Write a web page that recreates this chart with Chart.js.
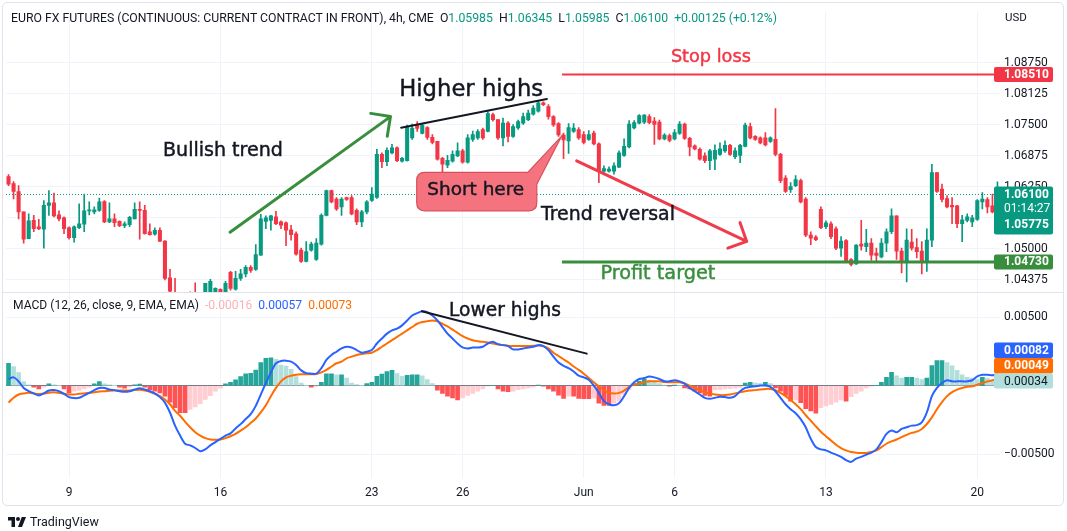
<!DOCTYPE html>
<html>
<head>
<meta charset="utf-8">
<title>EURO FX Futures 4h with MACD</title>
<script src="https://cdn.jsdelivr.net/npm/chart.js@4.4.1/dist/chart.umd.min.js"></script>
<style>
  html, body { margin: 0; padding: 0; background: #fff; }
  #wrap { position: relative; width: 1067px; height: 531px; overflow: hidden; font-family: Roboto, 'Noto Sans', sans-serif; color: #131722; }
  #frame { position: absolute; left: 2px; top: 2px; width: 1062px; height: 504px; border: 1px solid #e0e3eb; border-radius: 5px; box-sizing: border-box; }
  #c { position: absolute; left: 0; top: 0; }
  .txt { position: absolute; white-space: nowrap; line-height: 1; transform: translateY(-50%); }
  .note { position: absolute; white-space: nowrap; line-height: 1; transform: translate(-50%, -50%); font-family: 'DejaVu Sans', sans-serif; -webkit-text-stroke: 0.45px currentColor; }
  .g { color: #089981; }
  #tv { position: absolute; left: 8px; top: 514px; display: flex; align-items: center; gap: 4px; font-size: 12.5px; color: #131722; }
</style>
</head>
<body>
<div id="wrap">
  <div id="frame"></div>
  <canvas id="c" width="1067" height="531"></canvas>
  <div id="hdr" class="txt" style="left:11px;top:18px;font-size:12px">EURO FX FUTURES (CONTINUOUS: CURRENT CONTRACT IN FRONT), 4h, CME&nbsp; O<span class="g">1.05985</span>&nbsp; H<span class="g">1.06345</span>&nbsp; L<span class="g">1.05985</span>&nbsp; C<span class="g">1.06100</span>&nbsp; <span class="g">+0.00125 (+0.12%)</span></div>
  <div class="txt" style="left:1005px;top:18px;font-size:11.5px">USD</div>
  <div id="macdLeg" class="txt" style="left:13px;top:305px;font-size:12px">MACD (12, 26, close, 9, EMA, EMA)&nbsp; <span style="color:#fab1b8">-0.00016</span>&nbsp; <span style="color:#2962ff">0.00057</span>&nbsp; <span style="color:#ff6d00">0.00073</span></div>
  <div id="tv"><svg width="18" height="11" viewBox="0 0 36 22"><path d="M14 22H7V9H0V2h14z" fill="#131722"/><circle cx="20" cy="6" r="4" fill="#131722"/><path d="M28 22h-8l7.5-20H36z" fill="#131722"/></svg><span>TradingView</span></div>
</div>
<script>
// 4h candles, 197 bars (index 0 = first bar on the left)
const opens = [
  1.0645, 1.0631, 1.0615, 1.0574, 1.0520, 1.0557, 1.0544, 1.0539, 1.0587, 1.0592,
  1.0568, 1.0562, 1.0542, 1.0522, 1.0542, 1.0549, 1.0576, 1.0574, 1.0577, 1.0595,
  1.0554, 1.0560, 1.0555, 1.0546, 1.0548, 1.0560, 1.0579, 1.0577, 1.0534, 1.0529,
  1.0537, 1.0515, 1.0441, 1.0412, 1.0405, 1.0398, 1.0402, 1.0409, 1.0398, 1.0405,
  1.0406, 1.0404, 1.0418, 1.0408, 1.0452, 1.0418, 1.0440, 1.0449, 1.0462, 1.0458,
  1.0487, 1.0555, 1.0557, 1.0564, 1.0554, 1.0552, 1.0538, 1.0530, 1.0497, 1.0474,
  1.0497, 1.0478, 1.0509, 1.0567, 1.0617, 1.0600, 1.0584, 1.0603, 1.0603, 1.0577,
  1.0554, 1.0574, 1.0597, 1.0603, 1.0690, 1.0675, 1.0693, 1.0703, 1.0676, 1.0677,
  1.0723, 1.0749, 1.0732, 1.0744, 1.0724, 1.0716, 1.0682, 1.0668, 1.0676, 1.0687,
  1.0697, 1.0674, 1.0720, 1.0723, 1.0740, 1.0736, 1.0770, 1.0760, 1.0723, 1.0753,
  1.0726, 1.0743, 1.0753, 1.0760, 1.0771, 1.0777, 1.0794, 1.0786, 1.0766, 1.0752,
  1.0729, 1.0717, 1.0736, 1.0740, 1.0730, 1.0720, 1.0733, 1.0711, 1.0656, 1.0656,
  1.0656, 1.0664, 1.0688, 1.0705, 1.0743, 1.0753, 1.0755, 1.0766, 1.0757, 1.0755,
  1.0721, 1.0728, 1.0721, 1.0732, 1.0751, 1.0722, 1.0707, 1.0700, 1.0687, 1.0677,
  1.0680, 1.0690, 1.0697, 1.0708, 1.0685, 1.0688, 1.0706, 1.0746, 1.0726, 1.0723,
  1.0723, 1.0716, 1.0720, 1.0690, 1.0642, 1.0619, 1.0627, 1.0637, 1.0600, 1.0527,
  1.0523, 1.0579, 1.0544, 1.0550, 1.0540, 1.0501, 1.0516, 1.0478, 1.0469, 1.0509,
  1.0504, 1.0511, 1.0491, 1.0483, 1.0511, 1.0534, 1.0566, 1.0495, 1.0474, 1.0513,
  1.0502, 1.0495, 1.0474, 1.0517, 1.0653, 1.0620, 1.0601, 1.0587, 1.0586, 1.0550,
  1.0557, 1.0554, 1.0559, 1.0594, 1.0599, 1.0586, 1.05985
];
const highs = [
  1.0649, 1.0635, 1.0627, 1.0574, 1.0570, 1.0567, 1.0559, 1.0597, 1.0617, 1.0612,
  1.0576, 1.0564, 1.0544, 1.0546, 1.0590, 1.0610, 1.0594, 1.0584, 1.0602, 1.0597,
  1.0592, 1.0570, 1.0556, 1.0554, 1.0565, 1.0592, 1.0594, 1.0587, 1.0550, 1.0542,
  1.0542, 1.0516, 1.0458, 1.0440, 1.0410, 1.0409, 1.0413, 1.0431, 1.0410, 1.0430,
  1.0438, 1.0421, 1.0419, 1.0434, 1.0454, 1.0454, 1.0458, 1.0466, 1.0466, 1.0508,
  1.0569, 1.0566, 1.0567, 1.0575, 1.0556, 1.0554, 1.0547, 1.0534, 1.0501, 1.0514,
  1.0513, 1.0520, 1.0570, 1.0618, 1.0618, 1.0603, 1.0603, 1.0604, 1.0607, 1.0580,
  1.0577, 1.0597, 1.0623, 1.0700, 1.0693, 1.0703, 1.0710, 1.0705, 1.0684, 1.0749,
  1.0751, 1.0756, 1.0751, 1.0746, 1.0730, 1.0716, 1.0684, 1.0688, 1.0697, 1.0713,
  1.0700, 1.0730, 1.0737, 1.0740, 1.0743, 1.0776, 1.0773, 1.0760, 1.0763, 1.0756,
  1.0750, 1.0759, 1.0773, 1.0779, 1.0788, 1.0798, 1.0796, 1.0790, 1.0768, 1.0754,
  1.0733, 1.0752, 1.0752, 1.0744, 1.0736, 1.0738, 1.0737, 1.0713, 1.0667, 1.0665,
  1.0673, 1.0697, 1.0721, 1.0758, 1.0758, 1.0770, 1.0770, 1.0770, 1.0764, 1.0759,
  1.0732, 1.0731, 1.0740, 1.0756, 1.0753, 1.0724, 1.0709, 1.0703, 1.0693, 1.0700,
  1.0709, 1.0713, 1.0717, 1.0710, 1.0703, 1.0710, 1.0753, 1.0753, 1.0728, 1.0725,
  1.0734, 1.0725, 1.0782, 1.0692, 1.0647, 1.0633, 1.0647, 1.0640, 1.0603, 1.0534,
  1.0526, 1.0584, 1.0556, 1.0554, 1.0544, 1.0524, 1.0518, 1.0480, 1.0508, 1.0557,
  1.0539, 1.0520, 1.0501, 1.0520, 1.0540, 1.0580, 1.0566, 1.0501, 1.0540, 1.0539,
  1.0520, 1.0514, 1.0540, 1.0670, 1.0653, 1.0630, 1.0607, 1.0603, 1.0587, 1.0567,
  1.0570, 1.0567, 1.0599, 1.0613, 1.0603, 1.0610, 1.06345
];
const lows = [
  1.0627, 1.0600, 1.0560, 1.0511, 1.0520, 1.0534, 1.0538, 1.0501, 1.0567, 1.0564,
  1.0556, 1.0530, 1.0519, 1.0513, 1.0540, 1.0534, 1.0568, 1.0570, 1.0575, 1.0552,
  1.0552, 1.0544, 1.0544, 1.0542, 1.0544, 1.0560, 1.0519, 1.0529, 1.0527, 1.0527,
  1.0514, 1.0437, 1.0405, 1.0398, 1.0388, 1.0385, 1.0390, 1.0392, 1.0390, 1.0398,
  1.0400, 1.0398, 1.0402, 1.0404, 1.0416, 1.0416, 1.0436, 1.0443, 1.0452, 1.0456,
  1.0486, 1.0540, 1.0537, 1.0548, 1.0540, 1.0506, 1.0517, 1.0487, 1.0472, 1.0473,
  1.0495, 1.0476, 1.0507, 1.0566, 1.0592, 1.0577, 1.0567, 1.0597, 1.0568, 1.0548,
  1.0544, 1.0570, 1.0595, 1.0601, 1.0663, 1.0667, 1.0691, 1.0675, 1.0674, 1.0676,
  1.0720, 1.0736, 1.0731, 1.0720, 1.0711, 1.0678, 1.0655, 1.0663, 1.0674, 1.0685,
  1.0672, 1.0672, 1.0716, 1.0720, 1.0720, 1.0735, 1.0757, 1.0720, 1.0707, 1.0715,
  1.0724, 1.0740, 1.0750, 1.0758, 1.0769, 1.0775, 1.0788, 1.0761, 1.0746, 1.0726,
  1.0681, 1.0692, 1.0734, 1.0720, 1.0711, 1.0718, 1.0709, 1.0633, 1.0651, 1.0654,
  1.0650, 1.0663, 1.0686, 1.0703, 1.0741, 1.0751, 1.0752, 1.0751, 1.0710, 1.0719,
  1.0719, 1.0715, 1.0719, 1.0730, 1.0720, 1.0687, 1.0699, 1.0678, 1.0673, 1.0659,
  1.0659, 1.0688, 1.0694, 1.0688, 1.0681, 1.0673, 1.0705, 1.0721, 1.0718, 1.0711,
  1.0707, 1.0714, 1.0687, 1.0633, 1.0613, 1.0613, 1.0625, 1.0592, 1.0524, 1.0508,
  1.0516, 1.0540, 1.0540, 1.0520, 1.0498, 1.0484, 1.0472, 1.0465, 1.0468, 1.0497,
  1.0494, 1.0476, 1.0474, 1.0481, 1.0494, 1.0530, 1.0478, 1.0451, 1.0433, 1.0497,
  1.0481, 1.0449, 1.0454, 1.0504, 1.0613, 1.0594, 1.0582, 1.0550, 1.0542, 1.0514,
  1.0554, 1.0544, 1.0557, 1.0580, 1.0572, 1.0572, 1.05985
];
const closes = [
  1.0630, 1.0615, 1.0574, 1.0519, 1.0556, 1.0540, 1.0540, 1.0587, 1.0592, 1.0566,
  1.0560, 1.0540, 1.0522, 1.0544, 1.0550, 1.0576, 1.0577, 1.0578, 1.0594, 1.0554,
  1.0560, 1.0552, 1.0546, 1.0550, 1.0563, 1.0579, 1.0577, 1.0530, 1.0528, 1.0537,
  1.0515, 1.0440, 1.0414, 1.0405, 1.0398, 1.0402, 1.0396, 1.0398, 1.0404, 1.0430,
  1.0434, 1.0420, 1.0408, 1.0430, 1.0420, 1.0440, 1.0449, 1.0462, 1.0456, 1.0488,
  1.0560, 1.0562, 1.0566, 1.0550, 1.0547, 1.0537, 1.0528, 1.0489, 1.0474, 1.0494,
  1.0509, 1.0511, 1.0567, 1.0617, 1.0594, 1.0580, 1.0600, 1.0599, 1.0570, 1.0554,
  1.0574, 1.0594, 1.0610, 1.0690, 1.0675, 1.0698, 1.0703, 1.0677, 1.0682, 1.0745,
  1.0743, 1.0742, 1.0749, 1.0724, 1.0714, 1.0680, 1.0670, 1.0678, 1.0690, 1.0697,
  1.0674, 1.0723, 1.0730, 1.0736, 1.0723, 1.0772, 1.0760, 1.0723, 1.0753, 1.0726,
  1.0746, 1.0756, 1.0766, 1.0773, 1.0783, 1.0794, 1.0790, 1.0766, 1.0749, 1.0729,
  1.0719, 1.0744, 1.0743, 1.0723, 1.0714, 1.0730, 1.0711, 1.0657, 1.0661, 1.0660,
  1.0667, 1.0693, 1.0706, 1.0751, 1.0754, 1.0768, 1.0769, 1.0754, 1.0750, 1.0721,
  1.0729, 1.0718, 1.0734, 1.0751, 1.0722, 1.0705, 1.0701, 1.0680, 1.0677, 1.0697,
  1.0698, 1.0701, 1.0708, 1.0690, 1.0697, 1.0708, 1.0749, 1.0723, 1.0720, 1.0713,
  1.0709, 1.0723, 1.0690, 1.0637, 1.0615, 1.0625, 1.0639, 1.0594, 1.0527, 1.0521,
  1.0518, 1.0542, 1.0552, 1.0524, 1.0501, 1.0515, 1.0474, 1.0468, 1.0507, 1.0505,
  1.0511, 1.0487, 1.0486, 1.0511, 1.0534, 1.0566, 1.0495, 1.0474, 1.0517, 1.0501,
  1.0494, 1.0474, 1.0517, 1.0653, 1.0615, 1.0599, 1.0584, 1.0584, 1.0550, 1.0558,
  1.0564, 1.0562, 1.0597, 1.0600, 1.0584, 1.0574, 1.0610
];

// MACD (12, 26, 9)
const macdLine = [
  0.00049, 0.00061, 0.00032, -0.00016, -0.00040, -0.00056, -0.00071, -0.00056, -0.00035, -0.00032,
  -0.00040, -0.00059, -0.00083, -0.00090, -0.00088, -0.00071, -0.00052, -0.00032, -0.00016, -0.00016,
  -0.00028, -0.00032, -0.00040, -0.00044, -0.00040, -0.00028, -0.00018, -0.00028, -0.00040, -0.00056,
  -0.00083, -0.00123, -0.00195, -0.00291, -0.00363, -0.00423, -0.00435, -0.00454, -0.00478, -0.00464,
  -0.00435, -0.00411, -0.00387, -0.00363, -0.00347, -0.00311, -0.00280, -0.00243, -0.00207, -0.00147,
  -0.00064, 0.00020, 0.00097, 0.00164, 0.00181, 0.00183, 0.00176, 0.00152, 0.00112, 0.00092,
  0.00088, 0.00088, 0.00128, 0.00188, 0.00224, 0.00248, 0.00272, 0.00284, 0.00279, 0.00260,
  0.00241, 0.00248, 0.00260, 0.00308, 0.00344, 0.00380, 0.00404, 0.00416, 0.00440, 0.00476,
  0.00512, 0.00529, 0.00543, 0.00536, 0.00512, 0.00476, 0.00428, 0.00380, 0.00344, 0.00308,
  0.00279, 0.00272, 0.00279, 0.00279, 0.00284, 0.00308, 0.00320, 0.00303, 0.00296, 0.00289,
  0.00265, 0.00265, 0.00272, 0.00279, 0.00284, 0.00296, 0.00289, 0.00260, 0.00212, 0.00169,
  0.00145, 0.00128, 0.00104, 0.00073, 0.00061, 0.00044, 0.00001, -0.00052, -0.00112, -0.00135,
  -0.00143, -0.00128, -0.00076, -0.00016, 0.00025, 0.00049, 0.00056, 0.00068, 0.00061, 0.00049,
  0.00032, 0.00032, 0.00040, 0.00032, 0.00016, -0.00016, -0.00040, -0.00064, -0.00088, -0.00095,
  -0.00088, -0.00080, -0.00083, -0.00088, -0.00076, -0.00040, -0.00016, -0.00008, -0.00004, 0.00001,
  0.00001, -0.00008, -0.00040, -0.00088, -0.00135, -0.00171, -0.00200, -0.00243, -0.00303, -0.00387,
  -0.00447, -0.00464, -0.00471, -0.00488, -0.00502, -0.00519, -0.00543, -0.00555, -0.00531, -0.00519,
  -0.00502, -0.00488, -0.00464, -0.00411, -0.00351, -0.00327, -0.00339, -0.00315, -0.00303, -0.00291,
  -0.00287, -0.00267, -0.00195, -0.00076, -0.00016, 0.00020, 0.00040, 0.00032, 0.00032, 0.00032,
  0.00032, 0.00040, 0.00068, 0.00080, 0.00080, 0.00076, 0.00082
];
const signalLine = [
  -0.00123, -0.00088, -0.00064, -0.00056, -0.00052, -0.00056, -0.00061, -0.00056, -0.00052, -0.00047,
  -0.00052, -0.00059, -0.00064, -0.00064, -0.00059, -0.00056, -0.00052, -0.00047, -0.00042, -0.00040,
  -0.00037, -0.00035, -0.00035, -0.00035, -0.00035, -0.00032, -0.00030, -0.00035, -0.00044, -0.00059,
  -0.00076, -0.00100, -0.00135, -0.00183, -0.00219, -0.00263, -0.00303, -0.00339, -0.00363, -0.00382,
  -0.00392, -0.00394, -0.00392, -0.00382, -0.00368, -0.00351, -0.00327, -0.00303, -0.00272, -0.00239,
  -0.00195, -0.00143, -0.00076, -0.00016, 0.00032, 0.00061, 0.00073, 0.00080, 0.00083, 0.00083,
  0.00083, 0.00085, 0.00097, 0.00116, 0.00140, 0.00164, 0.00176, 0.00200, 0.00212, 0.00224,
  0.00231, 0.00236, 0.00241, 0.00260, 0.00284, 0.00308, 0.00332, 0.00356, 0.00380, 0.00404,
  0.00428, 0.00452, 0.00464, 0.00471, 0.00476, 0.00469, 0.00452, 0.00433, 0.00409, 0.00385,
  0.00361, 0.00344, 0.00332, 0.00325, 0.00320, 0.00315, 0.00308, 0.00301, 0.00296, 0.00291,
  0.00289, 0.00289, 0.00289, 0.00289, 0.00291, 0.00294, 0.00289, 0.00272, 0.00241, 0.00217,
  0.00193, 0.00169, 0.00140, 0.00116, 0.00088, 0.00056, 0.00025, -0.00004, -0.00032, -0.00052,
  -0.00056, -0.00052, -0.00035, -0.00008, 0.00008, 0.00016, 0.00025, 0.00032, 0.00032, 0.00032,
  0.00028, 0.00025, 0.00025, 0.00025, 0.00016, 0.00001, -0.00016, -0.00032, -0.00047, -0.00056,
  -0.00064, -0.00068, -0.00068, -0.00064, -0.00056, -0.00047, -0.00040, -0.00035, -0.00032, -0.00028,
  -0.00023, -0.00023, -0.00032, -0.00052, -0.00076, -0.00104, -0.00135, -0.00171, -0.00215, -0.00255,
  -0.00296, -0.00335, -0.00368, -0.00399, -0.00430, -0.00454, -0.00471, -0.00483, -0.00488, -0.00490,
  -0.00490, -0.00483, -0.00471, -0.00447, -0.00423, -0.00406, -0.00392, -0.00375, -0.00358, -0.00344,
  -0.00335, -0.00315, -0.00279, -0.00231, -0.00171, -0.00119, -0.00076, -0.00047, -0.00028, -0.00016,
  -0.00008, -0.00004, 0.00008, 0.00020, 0.00032, 0.00040, 0.00049
];
const hist = [
  0.00163, 0.00139, 0.00096, 0.00031, 0.00007, -0.00010, -0.00024, -0.00010, 0.00014, 0.00007,
  0.00003, -0.00024, -0.00053, -0.00040, -0.00034, -0.00024, -0.00010, 0.00014, 0.00031, 0.00014,
  0.00007, 0.00001, -0.00010, -0.00017, -0.00010, 0.00007, 0.00012, -0.00010, -0.00029, -0.00040,
  -0.00053, -0.00077, -0.00120, -0.00160, -0.00197, -0.00197, -0.00173, -0.00154, -0.00130, -0.00100,
  -0.00072, -0.00040, -0.00017, 0.00014, 0.00024, 0.00043, 0.00067, 0.00086, 0.00091, 0.00115,
  0.00168, 0.00199, 0.00204, 0.00192, 0.00151, 0.00144, 0.00120, 0.00067, 0.00019, 0.00002,
  -0.00010, -0.00002, 0.00024, 0.00086, 0.00086, 0.00079, 0.00080, 0.00056, 0.00020, 0.00008,
  0.00003, 0.00016, 0.00025, 0.00068, 0.00085, 0.00104, 0.00112, 0.00088, 0.00068, 0.00076,
  0.00080, 0.00080, 0.00073, 0.00044, 0.00016, -0.00032, -0.00056, -0.00076, -0.00088, -0.00104,
  -0.00088, -0.00071, -0.00056, -0.00040, -0.00023, -0.00004, 0.00002, -0.00023, -0.00040, -0.00044,
  -0.00040, -0.00028, -0.00023, -0.00016, -0.00008, 0.00004, -0.00004, -0.00023, -0.00040, -0.00068,
  -0.00092, -0.00076, -0.00076, -0.00092, -0.00095, -0.00095, -0.00088, -0.00128, -0.00143, -0.00143,
  -0.00128, -0.00112, -0.00064, -0.00028, 0.00016, 0.00032, 0.00049, 0.00040, 0.00025, 0.00016,
  0.00004, -0.00004, 0.00004, 0.00002, -0.00016, -0.00023, -0.00040, -0.00052, -0.00071, -0.00076,
  -0.00030, -0.00028, -0.00024, -0.00022, -0.00018, -0.00012, 0.00020, 0.00025, 0.00020, 0.00016,
  0.00025, 0.00016, -0.00016, -0.00040, -0.00071, -0.00112, -0.00104, -0.00124, -0.00167, -0.00183,
  -0.00200, -0.00160, -0.00148, -0.00136, -0.00119, -0.00104, -0.00112, -0.00080, -0.00056, -0.00040,
  -0.00016, -0.00004, 0.00001, 0.00025, 0.00061, 0.00097, 0.00073, 0.00056, 0.00061, 0.00061,
  0.00056, 0.00044, 0.00056, 0.00147, 0.00183, 0.00183, 0.00169, 0.00145, 0.00112, 0.00080,
  0.00061, 0.00056, 0.00044, 0.00061, 0.00056, 0.00040, 0.00034
];

// time axis: bar index of the first bar of each labelled day
const labelsAt = [12, 42, 72, 90, 114, 132, 162, 192];
const dateLabels = ['9', '16', '23', '26', 'Jun', '6', '13', '20'];
const priceTicks = [1.04375, 1.05, 1.05625, 1.0625, 1.06875, 1.075, 1.08125, 1.0875];
const macdTicks = [-0.005, 0, 0.005];
const stopLoss = 1.0851;
const profitTarget = 1.0473;

const up = '#089981', down = '#f23645';
const last = closes.length - 1;
const candleColors = opens.map((o, i) => closes[i] >= o ? up : down);
const histColors = hist.map((v, i) => {
  const prev = i ? hist[i - 1] : v;
  if (v >= 0) return v >= prev ? '#26a69a' : '#b2dfdb';
  return v <= prev ? '#ff5252' : '#ffcdd2';
});

function roundRect(ctx, x, y, w, h, r) {
  ctx.beginPath();
  ctx.moveTo(x + r, y);
  ctx.lineTo(x + w - r, y); ctx.quadraticCurveTo(x + w, y, x + w, y + r);
  ctx.lineTo(x + w, y + h - r); ctx.quadraticCurveTo(x + w, y + h, x + w - r, y + h);
  ctx.lineTo(x + r, y + h); ctx.quadraticCurveTo(x, y + h, x, y + h - r);
  ctx.lineTo(x, y + r); ctx.quadraticCurveTo(x, y, x + r, y);
  ctx.closePath();
}

function arrow(ctx, x0, y0, x1, y1, color) {
  ctx.strokeStyle = color; ctx.lineWidth = 3; ctx.lineCap = 'round';
  ctx.beginPath();
  ctx.moveTo(x0, y0); ctx.lineTo(x1, y1);
  const a = Math.atan2(y0 - y1, x0 - x1);
  [-Math.PI / 4, Math.PI / 4].forEach(d => {
    ctx.moveTo(x1, y1);
    ctx.lineTo(x1 + 20 * Math.cos(a + d), y1 + 20 * Math.sin(a + d));
  });
  ctx.stroke();
}

// drawings placed in data units: [bar index, price] or [bar index, macd]
const bullArrow = [[43.9, 1.0533], [75.7, 1.0766]];
const bearArrow = [[112.6, 1.06767], [146.3, 1.05145]];
const highsLine = [[77.8, 1.07437], [106.7, 1.08014]];
const lowsLine = [[81.9, 0.00543], [114.6, 0.00234]];
const levelStart = 109.7;
const callout = { left: 80.9, right: 104.7, top: 1.06537, bottom: 1.05761, tip: [109.6, 1.07265] };

const deco = {
  id: 'deco',
  afterDatasetsDraw(chart) {
    const { ctx, chartArea: a, scales: { x, y, y2 } } = chart;
    ctx.save();
    // last price dotted line
    ctx.strokeStyle = up; ctx.lineWidth = 1; ctx.setLineDash([1, 2]);
    const yl = Math.round(y.getPixelForValue(closes[last])) + 0.5;
    ctx.beginPath(); ctx.moveTo(a.left, yl); ctx.lineTo(a.right, yl); ctx.stroke();
    ctx.setLineDash([]);

    // stop loss / profit target levels
    const xs = x.getPixelForValue(levelStart);
    ctx.strokeStyle = '#f23645'; ctx.lineWidth = 2;
    let yy = y.getPixelForValue(stopLoss);
    ctx.beginPath(); ctx.moveTo(xs, yy); ctx.lineTo(a.right, yy); ctx.stroke();
    ctx.strokeStyle = '#388e3c'; ctx.lineWidth = 3;
    yy = y.getPixelForValue(profitTarget);
    ctx.beginPath(); ctx.moveTo(xs, yy); ctx.lineTo(a.right, yy); ctx.stroke();

    // trend lines
    ctx.strokeStyle = '#131722'; ctx.lineWidth = 2; ctx.lineCap = 'round';
    ctx.beginPath();
    ctx.moveTo(x.getPixelForValue(highsLine[0][0]), y.getPixelForValue(highsLine[0][1]));
    ctx.lineTo(x.getPixelForValue(highsLine[1][0]), y.getPixelForValue(highsLine[1][1]));
    ctx.moveTo(x.getPixelForValue(lowsLine[0][0]), y2.getPixelForValue(lowsLine[0][1]));
    ctx.lineTo(x.getPixelForValue(lowsLine[1][0]), y2.getPixelForValue(lowsLine[1][1]));
    ctx.stroke();

    arrow(ctx, x.getPixelForValue(bullArrow[0][0]), y.getPixelForValue(bullArrow[0][1]),
      x.getPixelForValue(bullArrow[1][0]), y.getPixelForValue(bullArrow[1][1]), '#388e3c');
    arrow(ctx, x.getPixelForValue(bearArrow[0][0]), y.getPixelForValue(bearArrow[0][1]),
      x.getPixelForValue(bearArrow[1][0]), y.getPixelForValue(bearArrow[1][1]), '#ef3b4c');

    // "Short here" callout
    const L = x.getPixelForValue(callout.left), R = x.getPixelForValue(callout.right);
    const T = y.getPixelForValue(callout.top), B = y.getPixelForValue(callout.bottom);
    const tx = x.getPixelForValue(callout.tip[0]), ty = y.getPixelForValue(callout.tip[1]);
    const r = 8;
    ctx.beginPath();
    ctx.moveTo(L + r, T);
    ctx.lineTo(R - 9, T);
    ctx.lineTo(tx, ty);
    ctx.lineTo(R, T + 12);
    ctx.lineTo(R, B - r); ctx.quadraticCurveTo(R, B, R - r, B);
    ctx.lineTo(L + r, B); ctx.quadraticCurveTo(L, B, L, B - r);
    ctx.lineTo(L, T + r); ctx.quadraticCurveTo(L, T, L + r, T);
    ctx.closePath();
    ctx.fillStyle = '#f5737f'; ctx.fill();
    ctx.strokeStyle = '#d5505c'; ctx.lineWidth = 1.2; ctx.stroke();
    ctx.restore();
  },
  afterDraw(chart) {
    const { ctx, scales: { y, y2 } } = chart;
    ctx.save();
    ctx.fillStyle = '#e0e3eb';
    ctx.fillRect(2, Math.round(y.bottom), 1062, 1);

    const BX = 994, BW = 59;
    const box = (top, h, bg) => { ctx.fillStyle = bg; roundRect(ctx, BX, top, BW, h, 2); ctx.fill(); };
    const label = (t, yc, color, bold) => {
      ctx.fillStyle = color;
      ctx.font = (bold ? 'bold ' : '') + '12px Roboto';
      ctx.textAlign = 'left'; ctx.textBaseline = 'middle';
      ctx.fillText(t, 1004, yc);
    };
    let yc = y.getPixelForValue(stopLoss);
    box(yc - 7.5, 15, '#f23645'); label(stopLoss.toFixed(5), yc + 0.5, '#fff', true);

    yc = y.getPixelForValue(closes[last]);
    box(yc - 7.5, 48, up);
    label(closes[last].toFixed(5), yc + 1, '#fff', true);
    label('01:14:27', yc + 15, '#fff', false);
    label('1.05775', yc + 31, '#fff', true);

    yc = y.getPixelForValue(profitTarget);
    box(yc - 7.5, 15, '#388e3c'); label(profitTarget.toFixed(5), yc + 0.5, '#fff', true);

    const yh = y2.getPixelForValue(hist[last]);
    box(yh - 31 - 7.5, 15.5, '#2962ff'); label(macdLine[last].toFixed(5), yh - 31 + 0.5, '#fff', true);
    box(yh - 15.5 - 7.5, 15.5, '#ff6d00'); label(signalLine[last].toFixed(5), yh - 15.5 + 0.5, '#fff', true);
    box(yh - 7.5, 15, '#b2dfdb'); label(hist[last].toFixed(5), yh + 0.5, '#131722', false);
    ctx.restore();
  }
};

const tickFont = { family: 'Roboto', size: 12 };
const cfg = {
  type: 'bar',
  data: {
    datasets: [
      { type: 'line', label: 'MACD', yAxisID: 'y2', data: macdLine.map((v, i) => ({ x: i, y: v })),
        borderColor: '#2962ff', borderWidth: 2, pointRadius: 0, tension: 0.3, order: 0 },
      { type: 'line', label: 'Signal', yAxisID: 'y2', data: signalLine.map((v, i) => ({ x: i, y: v })),
        borderColor: '#ff6d00', borderWidth: 2, pointRadius: 0, tension: 0.3, order: 0 },
      { label: 'Body', yAxisID: 'y', data: opens.map((o, i) => ({ x: i, y: [o, closes[i]] })),
        backgroundColor: candleColors, barThickness: 3.4, minBarLength: 1, grouped: false, order: 1 },
      { label: 'Wick', yAxisID: 'y', data: lows.map((l, i) => ({ x: i, y: [l, highs[i]] })),
        backgroundColor: candleColors, barThickness: 1, grouped: false, order: 2 },
      { label: 'Histogram', yAxisID: 'y2', data: hist.map((v, i) => ({ x: i, y: v })),
        backgroundColor: histColors, barThickness: 4, grouped: false, order: 3 }
    ]
  },
  options: {
    responsive: false,
    animation: false,
    devicePixelRatio: 1,
    events: [],
    layout: { padding: { left: 6, right: 0, top: 5, bottom: 26 } },
    plugins: { legend: { display: false }, tooltip: { enabled: false } },
    scales: {
      x: {
        type: 'linear', min: -0.5, max: last + 0.5, offset: false,
        grid: { color: '#f0f3fa', drawTicks: false, offset: false },
        border: { display: false },
        afterBuildTicks: s => { s.ticks = labelsAt.map(v => ({ value: v })); },
        afterFit: s => { s.height = 27; },
        ticks: { autoSkip: false, maxRotation: 0, padding: 8, color: '#131722', font: tickFont,
          callback: v => dateLabels[labelsAt.indexOf(v)] }
      },
      y: {
        type: 'linear', position: 'right', stack: 'panes', stackWeight: 285, weight: 1,
        min: 1.04116, max: 1.09784,
        grid: { color: '#f0f3fa', drawTicks: false },
        border: { display: false },
        afterBuildTicks: s => { s.ticks = priceTicks.map(v => ({ value: v })); },
        afterFit: s => { s.width = 67; },
        ticks: { padding: 4, color: '#131722', font: tickFont, callback: v => v.toFixed(5) }
      },
      y2: {
        type: 'linear', position: 'right', stack: 'panes', stackWeight: 188, weight: 2,
        min: -0.006727, max: 0.0068,
        grid: { color: c => (c.tick && c.tick.value === 0) ? '#787b86' : '#f0f3fa', drawTicks: false },
        border: { display: false },
        afterBuildTicks: s => { s.ticks = macdTicks.map(v => ({ value: v })); },
        afterFit: s => { s.width = 67; },
        ticks: { padding: 4, color: '#131722', font: tickFont,
          callback: v => v === 0 ? '' : (v < 0 ? '\u2212' + Math.abs(v).toFixed(5) : v.toFixed(5)) }
      }
    }
  },
  plugins: [deco]
};

const chart = new Chart(document.getElementById('c'), cfg);

// text overlays
const wrap = document.getElementById('wrap');
function fitWidth(el, width) {
  const w = el.getBoundingClientRect().width;
  const fs = parseFloat(getComputedStyle(el).fontSize);
  el.style.fontSize = (fs * width / w).toFixed(2) + 'px';
}
fitWidth(document.getElementById('hdr'), 766);
fitWidth(document.getElementById('macdLeg'), 339);

const notes = [
  { text: 'Bullish trend', i: 42.5, v: 1.0698, w: 120, color: '#131722' },
  { text: 'Higher highs', i: 91.7, v: 1.0823, w: 144, color: '#131722' },
  { text: 'Short here', i: 92.6, v: 1.06205, w: 97, color: '#131722' },
  { text: 'Trend reversal', i: 118.8, v: 1.05708, w: 134, color: '#131722' },
  { text: 'Stop loss', i: 139.2, v: 1.0887, w: 80, color: '#f23645' },
  { text: 'Profit target', i: 128.7, v: 1.04514, w: 115, color: '#388e3c' },
  { text: 'Lower highs', i: 98.4, v: 0.00552, w: 112, color: '#131722', pane: 'y2' }
];
const sx = chart.scales.x;
notes.forEach(n => {
  const el = document.createElement('div');
  el.className = 'note';
  el.textContent = n.text;
  el.style.color = n.color;
  el.style.fontSize = '18px';
  wrap.appendChild(el);
  fitWidth(el, n.w);
  el.style.left = sx.getPixelForValue(n.i) + 'px';
  el.style.top = chart.scales[n.pane || 'y'].getPixelForValue(n.v) + 'px';
});
</script>
</body>
</html>
